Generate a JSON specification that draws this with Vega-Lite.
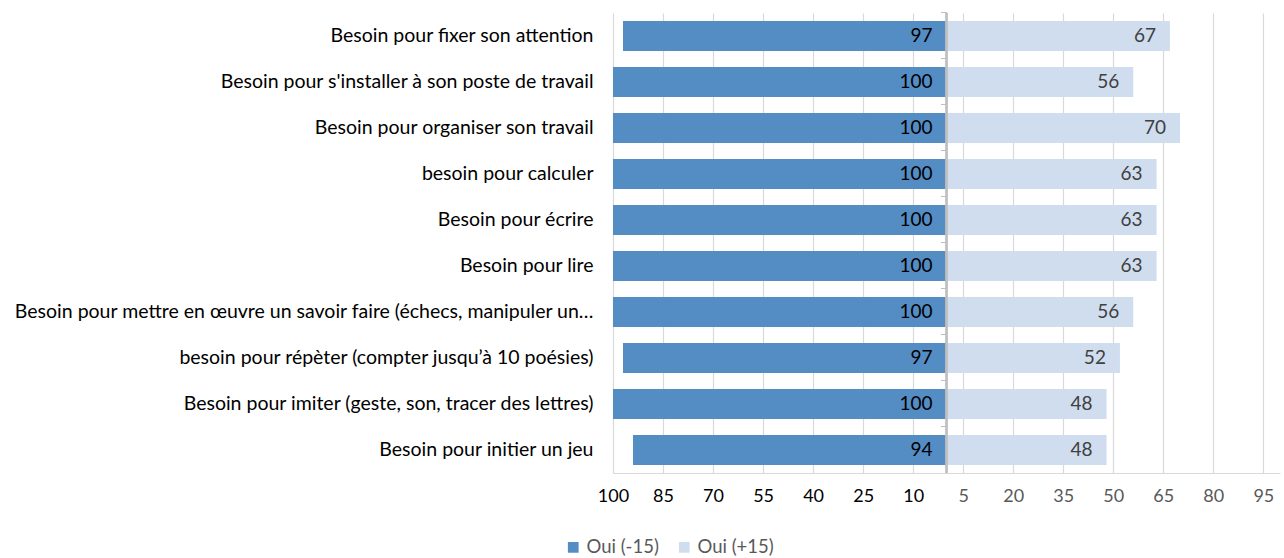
{
  "$schema": "https://vega.github.io/schema/vega-lite/v6.json",
  "width": 667,
  "height": 460,
  "autosize": {"type": "none"},
  "padding": {"left": 613, "top": 13, "right": 4, "bottom": 85},
  "config": {
    "view": {"stroke": null},
    "font": "Lato",
    "text": {"font": "Lato"}
  },
  "data": {
    "values": [
      {"besoin": "Besoin pour fixer son attention", "groupe": "Oui (-15)", "valeur": 97},
      {"besoin": "Besoin pour fixer son attention", "groupe": "Oui (+15)", "valeur": 67},
      {"besoin": "Besoin pour s'installer à son poste de travail", "groupe": "Oui (-15)", "valeur": 100},
      {"besoin": "Besoin pour s'installer à son poste de travail", "groupe": "Oui (+15)", "valeur": 56},
      {"besoin": "Besoin pour organiser son travail", "groupe": "Oui (-15)", "valeur": 100},
      {"besoin": "Besoin pour organiser son travail", "groupe": "Oui (+15)", "valeur": 70},
      {"besoin": "besoin pour calculer", "groupe": "Oui (-15)", "valeur": 100},
      {"besoin": "besoin pour calculer", "groupe": "Oui (+15)", "valeur": 63},
      {"besoin": "Besoin pour écrire", "groupe": "Oui (-15)", "valeur": 100},
      {"besoin": "Besoin pour écrire", "groupe": "Oui (+15)", "valeur": 63},
      {"besoin": "Besoin pour lire", "groupe": "Oui (-15)", "valeur": 100},
      {"besoin": "Besoin pour lire", "groupe": "Oui (+15)", "valeur": 63},
      {"besoin": "Besoin pour mettre en œuvre un savoir faire (échecs, manipuler un…", "groupe": "Oui (-15)", "valeur": 100},
      {"besoin": "Besoin pour mettre en œuvre un savoir faire (échecs, manipuler un…", "groupe": "Oui (+15)", "valeur": 56},
      {"besoin": "besoin pour répèter (compter jusqu’à 10 poésies)", "groupe": "Oui (-15)", "valeur": 97},
      {"besoin": "besoin pour répèter (compter jusqu’à 10 poésies)", "groupe": "Oui (+15)", "valeur": 52},
      {"besoin": "Besoin pour imiter (geste, son, tracer des lettres)", "groupe": "Oui (-15)", "valeur": 100},
      {"besoin": "Besoin pour imiter (geste, son, tracer des lettres)", "groupe": "Oui (+15)", "valeur": 48},
      {"besoin": "Besoin pour initier un jeu", "groupe": "Oui (-15)", "valeur": 94},
      {"besoin": "Besoin pour initier un jeu", "groupe": "Oui (+15)", "valeur": 48}
    ]
  },
  "transform": [
    {"calculate": "datum.groupe === 'Oui (-15)' ? -datum.valeur : datum.valeur", "as": "pos"},
    {"calculate": "datum.groupe === 'Oui (-15)' ? 0 : datum.valeur", "as": "ancre"}
  ],
  "resolve": {"axis": {"y": "independent"}},
  "layer": [
    {
      "mark": {"type": "bar"},
      "encoding": {
        "y": {
          "field": "besoin",
          "type": "nominal",
          "sort": null,
          "scale": {"paddingInner": 0.35, "paddingOuter": 0.175},
          "axis": {
            "title": null,
            "domain": false,
            "ticks": false,
            "labelFontSize": 19.5,
            "labelColor": "#000000",
            "labelPadding": 20,
            "labelLimit": 700
          }
        },
        "x": {
          "field": "pos",
          "type": "quantitative",
          "scale": {"domain": [-100, 100], "nice": false},
          "axis": {
            "title": null,
            "values": [-100, -85, -70, -55, -40, -25, -10, 5, 20, 35, 50, 65, 80, 95],
            "labelExpr": "'' + abs(datum.value)",
            "labelFontSize": 18,
            "labelColor": {"condition": {"test": "datum.value < 0", "value": "#000000"}, "value": "#595959"},
            "labelFlush": false,
            "labelOverlap": false,
            "labelPadding": 14,
            "ticks": false,
            "grid": true,
            "gridColor": "#D9D9D9",
            "gridWidth": 1.2,
            "domainColor": "#D9D9D9",
            "domainWidth": 1.2
          }
        },
        "color": {
          "field": "groupe",
          "type": "nominal",
          "scale": {"domain": ["Oui (-15)", "Oui (+15)"], "range": ["#548DC4", "#CFDDEF"]},
          "legend": {
            "title": null,
            "orient": "none",
            "direction": "horizontal",
            "legendX": -49,
            "legendY": 525,
            "symbolType": "square",
            "symbolSize": 115,
            "symbolStrokeWidth": 0,
            "labelFontSize": 18.5,
            "labelColor": "#595959",
            "labelOffset": 4,
            "columnPadding": 16
          }
        }
      }
    },
    {
      "mark": {"type": "rule", "color": "#BFBFBF", "strokeWidth": 1.2},
      "encoding": {"x": {"datum": 0, "type": "quantitative"}}
    },
    {
      "mark": {"type": "text", "align": "right", "baseline": "middle", "dx": -14, "fontSize": 19},
      "encoding": {
        "y": {
          "field": "besoin",
          "type": "nominal",
          "sort": null,
          "axis": {
            "orient": "right",
            "offset": -333.5,
            "title": null,
            "labels": false,
            "domain": false,
            "ticks": true,
            "tickSize": -6,
            "tickColor": "#BFBFBF",
            "bandPosition": -0.27
          }
        },
        "x": {"field": "ancre", "type": "quantitative"},
        "text": {"field": "valeur", "type": "quantitative"},
        "color": {
          "condition": {"test": "datum.groupe === 'Oui (-15)'", "value": "#000000"},
          "value": "#404040"
        }
      }
    }
  ]
}
